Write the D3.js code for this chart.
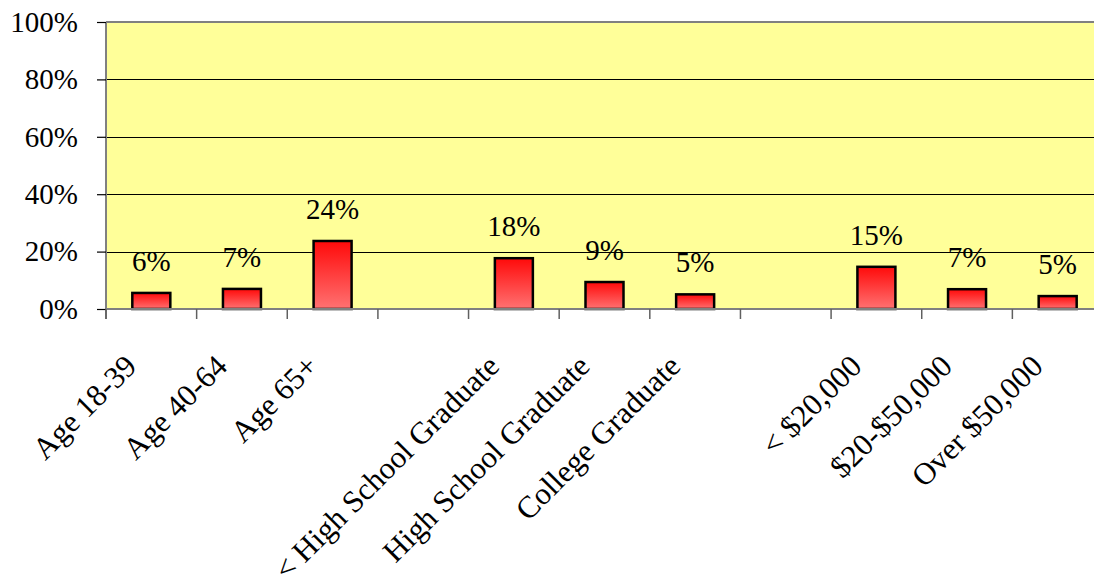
<!DOCTYPE html>
<html>
<head>
<meta charset="utf-8">
<script src="https://cdn.jsdelivr.net/npm/d3@7"></script>
<style>
  html, body { margin: 0; padding: 0; background: #ffffff; }
  svg { display: block; }
</style>
</head>
<body>
<div id="chart"></div>
<script>
// ---- data ----
const categories = ["Age 18-39", "Age 40-64", "Age 65+", "",
                    "< High School Graduate", "High School Graduate", "College Graduate", " ",
                    "< $20,000", "$20-$50,000", "Over $50,000"];
const values = [5.6, 7.0, 23.7, null, 17.7, 9.4, 5.1, null, 14.7, 6.9, 4.5];
const valueLabels = ["6%", "7%", "24%", "", "18%", "9%", "5%", "", "15%", "7%", "5%"];
const yTicks = [0, 20, 40, 60, 80, 100];

// ---- layout ----
const W = 1094, H = 578;
const FONT = '"Liberation Serif"';
const plot = { left: 106, top: 22, right: 1103, bottom: 309 };

const svg = d3.select("#chart").append("svg")
  .attr("width", W).attr("height", H);

const defs = svg.append("defs");
const grad = defs.append("linearGradient")
  .attr("id", "barGrad").attr("x1", 0).attr("y1", 0).attr("x2", 0).attr("y2", 1);
grad.append("stop").attr("offset", "0%").attr("stop-color", "#ff0a0a");
grad.append("stop").attr("offset", "100%").attr("stop-color", "#ff7272");

const x = d3.scaleBand()
  .domain(d3.range(categories.length))
  .range([plot.left, plot.right])
  .paddingInner(0).paddingOuter(0);

const y = d3.scaleLinear().domain([0, 100]).range([plot.bottom, plot.top]);

// plot background
svg.append("rect")
  .attr("x", plot.left).attr("y", plot.top)
  .attr("width", plot.right - plot.left).attr("height", plot.bottom - plot.top)
  .attr("fill", "#ffff99");

// gridlines
svg.append("g").selectAll("line")
  .data(yTicks.filter(t => t > 0 && t < 100))
  .join("line")
  .attr("x1", plot.left).attr("x2", plot.right)
  .attr("y1", d => Math.round(y(d)) + 0.5).attr("y2", d => Math.round(y(d)) + 0.5)
  .attr("stroke", "#000").attr("stroke-width", 1);

// top border
svg.append("line")
  .attr("x1", plot.left).attr("x2", plot.right)
  .attr("y1", plot.top).attr("y2", plot.top)
  .attr("stroke", "#808080").attr("stroke-width", 2);

// y axis
const yAxis = d3.axisLeft(y).tickValues(yTicks).tickFormat(d => d + "%")
  .tickSizeInner(9).tickSizeOuter(0).tickPadding(19);
const gy = svg.append("g").attr("transform", `translate(${plot.left},0)`).call(yAxis);
gy.attr("font-family", null).attr("font-size", null);
gy.select(".domain").attr("stroke", "#808080").attr("stroke-width", 2)
  .attr("d", `M0,${plot.top}V${plot.bottom + 10}`);
gy.selectAll(".tick line").attr("stroke", "#000").attr("stroke-width", 1.2);
gy.selectAll(".tick text")
  .style("font-family", FONT)
  .style("font-size", "29px").attr("fill", "#000");

// bars
const barW = 38;
svg.append("g").selectAll("rect")
  .data(values.map((v, i) => ({ v, i })).filter(d => d.v !== null))
  .join("rect")
  .attr("x", d => x(d.i) + x.bandwidth() / 2 - barW / 2)
  .attr("y", d => y(d.v))
  .attr("width", barW)
  .attr("height", d => y(0) - y(d.v))
  .attr("fill", "url(#barGrad)")
  .attr("stroke", "#000").attr("stroke-width", 2.5);

// value labels
svg.append("g").selectAll("text")
  .data(values.map((v, i) => ({ v, i, label: valueLabels[i] })).filter(d => d.v !== null))
  .join("text")
  .attr("x", d => x(d.i) + x.bandwidth() / 2)
  .attr("y", d => y(d.v) - 22)
  .attr("text-anchor", "middle")
  .attr("fill", "#000")
  .style("font-family", FONT)
  .style("font-size", "29px")
  .text(d => d.label);

// x axis
const xAxis = d3.axisBottom(x).tickValues([]).tickSizeOuter(0);
const gx = svg.append("g").attr("transform", `translate(0,${plot.bottom})`).call(xAxis);
gx.select(".domain").attr("stroke", "#808080").attr("stroke-width", 2)
  .attr("d", `M${plot.left},0H${plot.right}`);
// category boundary ticks
gx.selectAll("line.cat")
  .data(d3.range(categories.length + 1))
  .join("line").attr("class", "cat")
  .attr("x1", i => plot.left + i * x.step()).attr("x2", i => plot.left + i * x.step())
  .attr("y1", 0).attr("y2", 10)
  .attr("stroke", "#606060").attr("stroke-width", 1.5);

// rotated category labels
svg.append("g").selectAll("text")
  .data(categories.map((c, i) => ({ c, i })).filter(d => d.c.trim() !== ""))
  .join("text")
  .attr("transform", d => `translate(${x(d.i) + x.bandwidth() / 2 - 13},${plot.bottom + 59}) rotate(-45)`)
  .attr("text-anchor", "end")
  .attr("fill", "#000")
  .style("font-family", FONT)
  .style("font-size", "31px")
  .text(d => d.c);
</script>
</body>
</html>
